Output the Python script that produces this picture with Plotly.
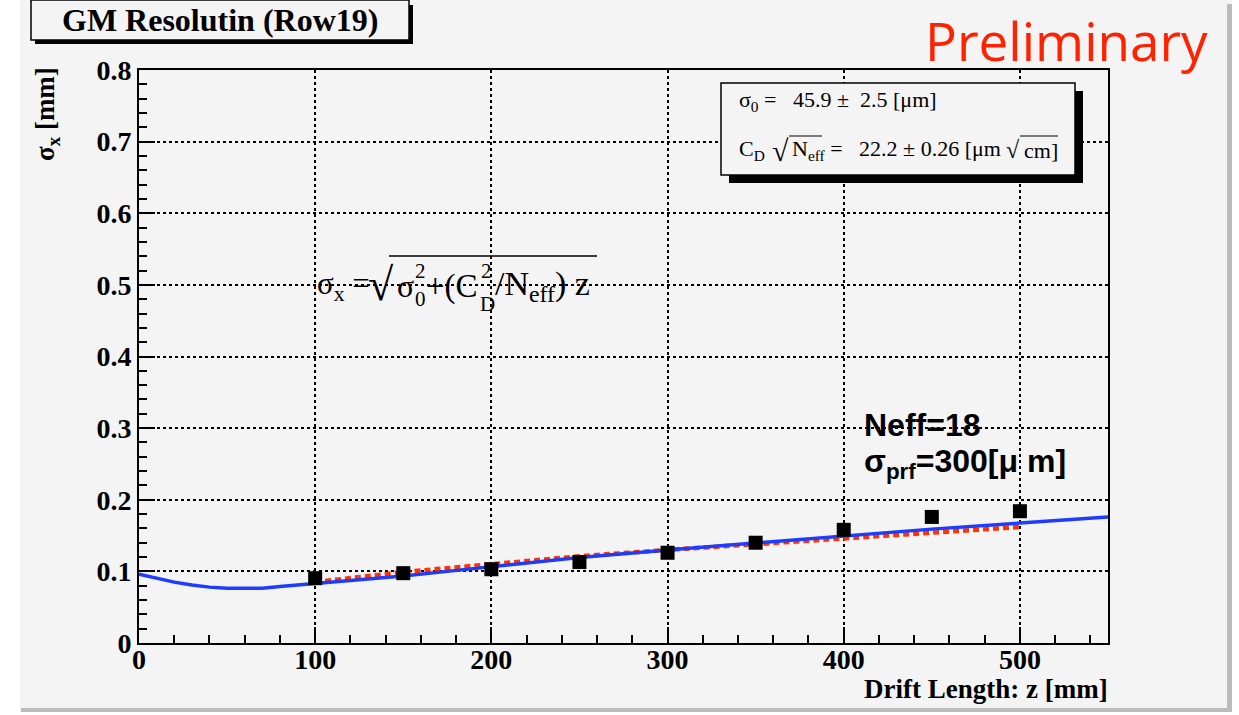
import plotly.graph_objects as go

# ---- data ----
z_points = [100, 150, 200, 250, 300, 350, 400, 450, 500]
sigma_points = [0.0905, 0.0975, 0.103, 0.113, 0.126, 0.140, 0.158, 0.176, 0.184]

z_fit = [100, 150, 200, 250, 300, 350, 400, 450, 500]
sigma_fit = [0.085, 0.099, 0.110, 0.121, 0.130, 0.138, 0.146, 0.154, 0.162]

z_sim = [0, 10, 20, 30, 40, 50, 60, 70, 80, 90, 100, 125, 150, 175, 200, 250, 300, 350, 400, 450, 500, 550]
sigma_sim = [0.096, 0.090, 0.085, 0.081, 0.078, 0.0765, 0.0763, 0.0765, 0.079, 0.081, 0.0835, 0.088,
             0.0935, 0.100, 0.1065, 0.1195, 0.130, 0.140, 0.150, 0.159, 0.1675, 0.176]

W, H = 1239, 715
L, R, T, B = 139, 1108, 70, 643
PW, PH = R - L, B - T


def px(x):
    return (x - L) / PW


def py(y):
    return (B - y) / PH


BG = "#f4f4f4"
SERIF = "Liberation Serif"
SANS = "Liberation Sans"

fig = go.Figure()
fig.add_trace(go.Scatter(x=z_fit, y=sigma_fit, mode="lines",
                         line=dict(color="#ff3300", width=4.5, dash="6px,4px"), hoverinfo="skip"))
fig.add_trace(go.Scatter(x=z_sim, y=sigma_sim, mode="lines",
                         line=dict(color="#1e3cff", width=3.5), hoverinfo="skip"))
fig.add_trace(go.Scatter(x=z_points, y=sigma_points, mode="markers",
                         marker=dict(symbol="square", size=14, color="black"), hoverinfo="skip"))

axis_common = dict(
    showline=True, linecolor="black", linewidth=2, mirror=True,
    ticks="inside", tickcolor="black", tickwidth=2, ticklen=16,
    showgrid=True, gridcolor="black", gridwidth=1.5, griddash="dot",
    zeroline=False,
    tickfont=dict(family=SERIF, size=28, color="black", weight="bold"),
)

fig.update_xaxes(range=[0, 550], dtick=100, tick0=0, ticklabelstandoff=-10,
                 minor=dict(dtick=20, ticks="inside", ticklen=8, tickwidth=2, tickcolor="black", showgrid=False),
                 **axis_common)
fig.update_yaxes(range=[0, 0.8], dtick=0.1, tick0=0,
                 minor=dict(dtick=0.02, ticks="inside", ticklen=8, tickwidth=2, tickcolor="black", showgrid=False),
                 **axis_common)

shapes = []


def rect(x0, x1, y0, y1, fill, line=None):
    shapes.append(dict(type="rect", xref="paper", yref="paper", x0=px(x0), x1=px(x1), y0=py(y1), y1=py(y0),
                       fillcolor=fill, line=line or dict(width=0), layer="above"))


def hline(x0, x1, y, width=1.5):
    shapes.append(dict(type="line", xref="paper", yref="paper", x0=px(x0), x1=px(x1), y0=py(y), y1=py(y),
                       line=dict(color="black", width=width), layer="above"))


# canvas edges: white outside, shadow right/bottom
rect(-5, 20, -5, 720, "white")
rect(1232, 1245, -5, 720, "white")
rect(1227, 1232, 4, 712, "#bcbcbc")
rect(21, 1232, 708, 712, "#bcbcbc")
rect(-5, 1245, 712, 720, "white")

# title box with shadow
rect(35, 413, 5, 44, "black")
rect(31, 409, 0, 40, BG, dict(color="black", width=1.5))

# stats box with shadow
rect(729, 1083, 91, 183, "black")
rect(721, 1075, 83, 175, BG, dict(color="black", width=1.5))

# overline of the square root in the formula
hline(389, 597, 256)
# overlines in the stats box
hline(789, 822, 136, 1.2)
hline(1020, 1058, 136, 1.2)

annotations = []


def ann(text, x, y, size, family, xanchor="left", yanchor="middle", color="black", weight="normal", angle=0):
    annotations.append(dict(text=text, x=px(x), y=py(y), xref="paper", yref="paper",
                            xanchor=xanchor, yanchor=yanchor, showarrow=False, textangle=angle,
                            font=dict(family=family, size=size, color=color, weight=weight)))


ann("GM Resolutin (Row19)", 220, 20, 32, SERIF, xanchor="center", weight="bold")
ann("Preliminary", 1210, 40, 53, "Open Sans", xanchor="right", color="#ff2200")
ann("σ<sub>x</sub> [mm]", 47, 114, 27, SERIF, xanchor="center", weight="bold", angle=-90)
ann("Drift Length: z [mm]", 1110, 689, 27, SERIF, xanchor="right", weight="bold")

# stats box text
ann("σ<sub>0</sub> =   45.9 ±  2.5 [μm]", 737, 101, 22, SERIF)
ann("C<sub>D</sub>", 737, 150, 22, SERIF)
ann("√", 770, 150, 30, SERIF)
ann("N<sub>eff</sub> =   22.2 ± 0.26 [μm", 790, 150, 22, SERIF)
ann("√", 1022, 150, 24, SERIF, xanchor="right")
ann("cm]", 1060, 150, 22, SERIF, xanchor="right")

# formula (pieces placed so that sub/superscripts stack)
ann("σ<sub>x</sub> =", 315, 286, 31, SERIF)
ann("√", 366, 284, 46, SERIF)
ann("σ", 395, 286, 32, SERIF)
ann("0", 413, 299, 21, SERIF)
ann("2", 413, 271, 21, SERIF)
ann("+(C", 424, 286, 33, SERIF)
ann("2", 479, 271, 21, SERIF)
ann("D", 478, 304, 21, SERIF)
ann("/N<sub>eff</sub>) z", 493, 286, 34, SERIF)

ann("Neff=18", 862, 425, 32, SANS, weight="bold")
ann("σ<sub>prf</sub>=300[μ m]", 862, 463, 32, SANS, weight="bold")

fig.update_layout(
    width=W, height=H,
    margin=dict(l=L, r=W - R, t=T, b=H - B, pad=0),
    paper_bgcolor=BG, plot_bgcolor=BG,
    showlegend=False,
    shapes=shapes, annotations=annotations,
)

fig.write_html("out.html")
